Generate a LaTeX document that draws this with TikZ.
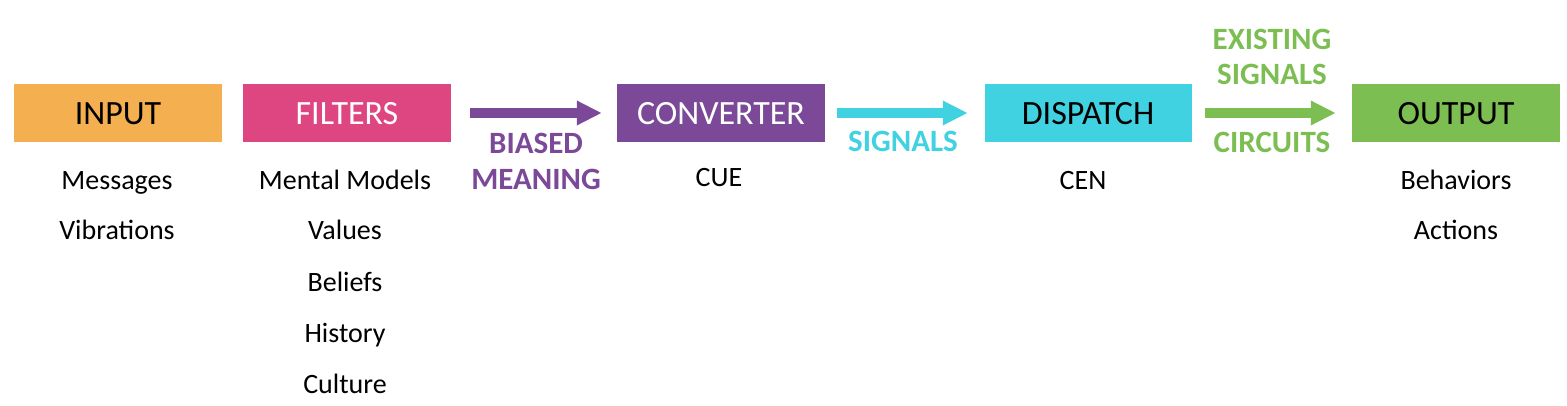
\documentclass[tikz,border=0pt]{standalone}
\usepackage{fontspec}
\setmainfont{Carlito}
\usetikzlibrary{arrows.meta}
\definecolor{cinput}{RGB}{244,176,80}
\definecolor{cfilter}{RGB}{222,70,129}
\definecolor{cconv}{RGB}{123,73,152}
\definecolor{cdisp}{RGB}{65,210,225}
\definecolor{cout}{RGB}{124,190,82}
\tikzset{
  stagebox/.style={minimum width=208pt, minimum height=58pt, inner sep=0pt},
  stagetext/.style={font=\fontsize{34}{38}\selectfont, inner sep=0pt, anchor=base},
  itemtext/.style={font=\fontsize{28}{32}\selectfont, inner sep=0pt, anchor=base},
  flowlabel/.style={font=\fontsize{31}{35}\selectfont\bfseries, inner sep=0pt, anchor=base},
  flowarrow/.style={line width=10pt, -{Triangle[length=25pt,width=23pt]}},
}
\begin{document}
\begin{tikzpicture}[x=1pt,y=-1pt]
\useasboundingbox (0,0) rectangle (1567,406);
\node[stagebox, fill=cinput] (input) at (118,113) {};
\node[stagebox, fill=cfilter] (filters) at (347,113) {};
\node[stagebox, fill=cconv] (conv) at (721,113) {};
\node[stagebox, fill=cdisp, minimum width=207pt] (disp) at (1088.5,113) {};
\node[stagebox, fill=cout] (out) at (1456,113) {};

\node[stagetext] (inputlbl) at (118,125) {INPUT};
\node[stagetext, text=white] (filterslbl) at (347,125) {FILTERS};
\node[stagetext, text=white] (convlbl) at (721,125) {CONVERTER};
\node[stagetext] (displbl) at (1088,125) {DISPATCH};
\node[stagetext] (outlbl) at (1456,125) {OUTPUT};

\draw[flowarrow, cconv, shorten <=19pt, shorten >=15pt] (filters.east) -- (conv.west);
\draw[flowarrow, cdisp, shorten <=12pt, shorten >=17pt] (conv.east) -- (disp.west);
\draw[flowarrow, cout, shorten <=13pt, shorten >=16pt] (disp.east) -- (out.west);

\node[flowlabel, text=cconv] (biased) at (536,154) {BIASED};
\node[flowlabel, text=cconv] (meaning) at (536,190) {MEANING};
\node[flowlabel, text=cdisp] (signals) at (903,152) {SIGNALS};
\node[flowlabel, text=cout] (existing) at (1272,50) {EXISTING};
\node[flowlabel, text=cout] (signals2) at (1272,85) {SIGNALS};
\node[flowlabel, text=cout] (circuits) at (1272,153) {CIRCUITS};

\node[itemtext] (messages) at (117,190) {Messages};
\node[itemtext] (vibrations) at (117,240) {Vibrations};
\node[itemtext] (mental) at (345,190) {Mental Models};
\node[itemtext] (values) at (345,240) {Values};
\node[itemtext] (beliefs) at (345,291) {Beliefs};
\node[itemtext] (history) at (345,342) {History};
\node[itemtext] (culture) at (345,393) {Culture};
\node[itemtext] (cue) at (719,187) {CUE};
\node[itemtext] (cen) at (1083,190) {CEN};
\node[itemtext] (behaviors) at (1456,190) {Behaviors};
\node[itemtext] (actions) at (1456,240) {Actions};
\end{tikzpicture}
\end{document}
